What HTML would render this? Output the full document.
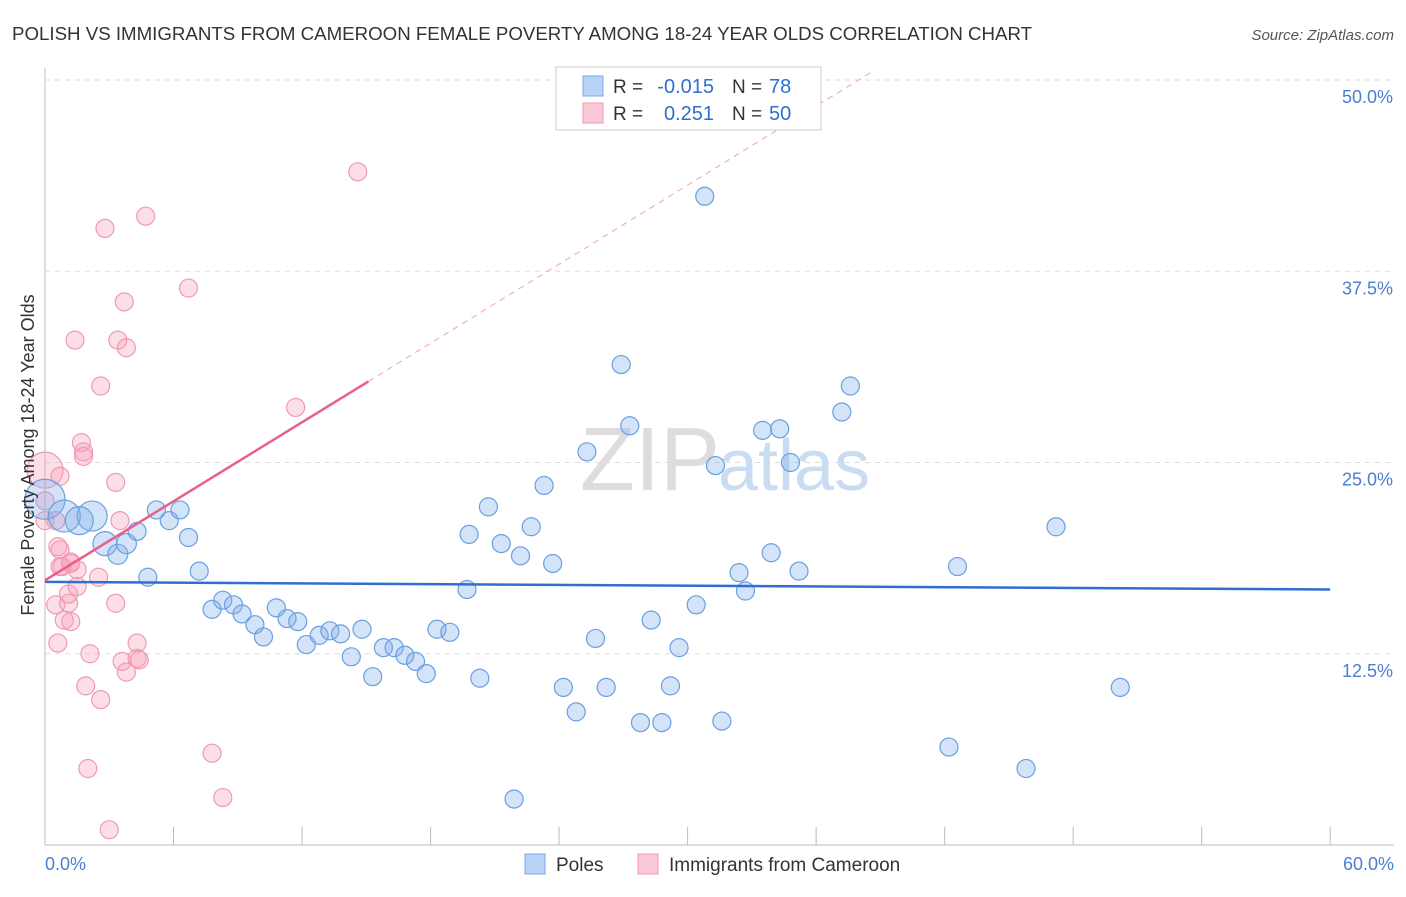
<!DOCTYPE html>
<html><head><meta charset="utf-8"><style>
body{margin:0;background:#fff;font-family:"Liberation Sans",sans-serif;}
svg text{font-family:"Liberation Sans",sans-serif;}
</style></head><body>
<svg width="1406" height="892">
<text x="12" y="40" font-size="18.7" fill="#333">POLISH VS IMMIGRANTS FROM CAMEROON FEMALE POVERTY AMONG 18-24 YEAR OLDS CORRELATION CHART</text>
<text x="1394" y="40" font-size="15" font-style="italic" fill="#555" text-anchor="end">Source: ZipAtlas.com</text>
<g id="grid"></g>
<text x="720" y="490" font-size="90" fill="#ddd" text-anchor="end" font-family="Liberation Serif">ZIP</text>
<text x="718" y="490" font-size="72" fill="#c9dcf2">atlas</text>
<g id="pts"></g>
<g id="lines"></g>
<text transform="translate(34,455) rotate(-90)" font-size="18" fill="#333" text-anchor="middle">Female Poverty Among 18-24 Year Olds</text>
<text x="45" y="870" font-size="18" fill="#4a7fd0">0.0%</text>
<text x="1394" y="870" font-size="18" fill="#4a7fd0" text-anchor="end">60.0%</text>
<g>
<rect x="556" y="67" width="265" height="63" fill="#fff" stroke="#ccc"/>
<rect x="583" y="76" width="20" height="20" fill="#b8d3f5" stroke="#7aa7e6"/>
<rect x="583" y="103" width="20" height="20" fill="#fac8d6" stroke="#ef9ab2"/>
<text x="613" y="93" font-size="19" fill="#333">R =</text>
<text x="714" y="93" font-size="20" fill="#2f6fd0" text-anchor="end">-0.015</text>
<text x="732" y="93" font-size="19" fill="#333">N =</text>
<text x="769" y="93" font-size="20" fill="#2f6fd0">78</text>
<text x="613" y="120" font-size="19" fill="#333">R =</text>
<text x="714" y="120" font-size="20" fill="#2f6fd0" text-anchor="end">0.251</text>
<text x="732" y="120" font-size="19" fill="#333">N =</text>
<text x="769" y="120" font-size="20" fill="#2f6fd0">50</text>
</g>
<g>
<rect x="525" y="854" width="20" height="20" fill="#b8d3f5" stroke="#7aa7e6"/>
<text x="556" y="871" font-size="19" fill="#333">Poles</text>
<rect x="638" y="854" width="20" height="20" fill="#fac8d6" stroke="#ef9ab2"/>
<text x="669" y="871" font-size="19" fill="#333">Immigrants from Cameroon</text>
</g>
</svg>
<script>
const yTicks=[12.5,25,37.5,50];
const yTickLabels=["12.5%","25.0%","37.5%","50.0%"];
const xTicks=[0,6,12,18,24,30,36,42,48,54,60];
const polesX=[0,0.9,2.2,1.6,2.8,3.4,3.8,4.3,5.2,5.8,6.3,6.7,4.8,7.2,7.8,8.3,8.8,9.2,9.8,10.2,10.8,11.3,11.8,12.2,12.8,13.3,13.8,14.3,14.8,15.3,15.8,16.3,16.8,17.3,17.8,18.3,18.9,19.7,19.8,20.3,20.7,21.3,21.9,22.2,22.7,23.3,23.7,24.2,24.8,25.3,25.7,26.2,26.9,27.3,27.8,28.3,28.8,29.2,29.6,30.4,30.8,31.3,31.6,32.4,32.7,33.5,33.9,34.3,34.8,35.2,37.2,37.6,42.2,42.6,45.8,47.2,50.2];
const polesY=[22.6,21.5,21.5,21.2,19.7,19.0,19.7,20.5,21.9,21.2,21.9,20.1,17.5,17.9,15.4,16.0,15.7,15.1,14.4,13.6,15.5,14.8,14.6,13.1,13.7,14.0,13.8,12.3,14.1,11.0,12.9,12.9,12.4,12.0,11.2,14.1,13.9,16.7,20.3,10.9,22.1,19.7,3.0,18.9,20.8,23.5,18.4,10.3,8.7,25.7,13.5,10.3,31.4,27.4,8.0,14.7,8.0,10.4,12.9,15.7,42.4,24.8,8.1,17.8,16.6,27.1,19.1,27.2,25.0,17.9,28.3,30.0,6.4,18.2,5.0,20.8,10.3];
const polesR=[20,16,15,14,12,10,10,9,9,9,9,9,9,9,9,9,9,9,9,9,9,9,9,9,9,9,9,9,9,9,9,9,9,9,9,9,9,9,9,9,9,9,9,9,9,9,9,9,9,9,9,9,9,9,9,9,9,9,9,9,9,9,9,9,9,9,9,9,9,9,9,9,9,9,9,9,9];
const camX=[0,0,0,0.7,0.5,0.6,0.7,0.7,0.5,0.6,0.8,1.1,1.1,0.9,1.2,1.2,1.2,1.4,1.5,1.5,1.7,1.8,1.8,1.9,2.0,2.1,2.5,2.6,2.6,2.8,3.0,3.3,3.3,3.4,3.5,3.6,3.7,3.8,3.8,4.3,4.3,4.4,4.7,6.7,7.8,8.3,11.7,14.6];
const camY=[24.5,21.2,22.5,24.1,21.2,19.5,18.2,19.3,15.7,13.2,18.2,15.8,16.4,14.7,14.6,18.5,18.4,33.0,16.9,18.0,26.3,25.7,25.4,10.4,5.0,12.5,17.5,9.5,30.0,40.3,1.0,23.7,15.8,33.0,21.2,12.0,35.5,32.5,11.3,13.2,12.2,12.1,41.1,36.4,6.0,3.1,28.6,44.0];
const blueTrend=[17.2,16.7];
const pinkTrend=[17.3,30.3];
const pinkTrendEndX=15.1;
const NS="http://www.w3.org/2000/svg";
const X=v=>45+v*21.42, Y=v=>845-v*15.3;
function mk(tag,at,parent){const e=document.createElementNS(NS,tag);for(const k in at)e.setAttribute(k,at[k]);parent.appendChild(e);return e;}
const grid=document.getElementById('grid');
let ax=mk('line',{x1:45,y1:68,x2:45,y2:845,stroke:'#bbb'},grid);


let bx=mk('line',{x1:45,y1:845,x2:1394,y2:845,stroke:'#bbb'},grid);


yTicks.forEach((t,i)=>{
 let g=mk('line',{x1:45,y1:Y(t),x2:1394,y2:Y(t),stroke:'#ddd','stroke-dasharray':'5,5'},grid);
 
 
 let tx=mk('text',{x:1393,y:Y(t)+23,'font-size':18,fill:'#4a7fd0','text-anchor':'end'},grid);
 tx.textContent=yTickLabels[i];
 
 
});
xTicks.forEach(t=>{
 let l=mk('line',{x1:X(t),y1:827,x2:X(t),y2:845,stroke:'#bbb'},grid);
 
 
});
const pts=document.getElementById('pts');
camX.forEach((x,i)=>{
 let c=mk('circle',{cx:X(x),cy:Y(camY[i]),r:i==0?18:9,fill:'rgba(245,160,185,0.35)',stroke:'#ef9ab2','stroke-width':1.2},pts);
 
 
});
polesX.forEach((x,i)=>{
 let c=mk('circle',{cx:X(x),cy:Y(polesY[i]),r:polesR[i]||9,fill:'rgba(130,175,235,0.35)',stroke:'#6a9fe0','stroke-width':1.2},pts);
 
 
});
const lines=document.getElementById('lines');
let bl=mk('line',{x1:X(0),y1:Y(blueTrend[0]),x2:X(60),y2:Y(blueTrend[1]),stroke:'#2f6fd0','stroke-width':2.5},lines);


const slope=(pinkTrend[1]-pinkTrend[0])/pinkTrendEndX;
let pl=mk('line',{x1:X(0),y1:Y(pinkTrend[0]),x2:X(pinkTrendEndX),y2:Y(pinkTrend[1]),stroke:'#e8608a','stroke-width':2.5},lines);


const xe=(50.5-pinkTrend[0])/slope;
let pd=mk('line',{x1:X(pinkTrendEndX),y1:Y(pinkTrend[1]),x2:X(xe),y2:Y(50.5),stroke:'#f0a0b8','stroke-width':1,'stroke-dasharray':'6,5'},lines);


</script>
</body></html>
